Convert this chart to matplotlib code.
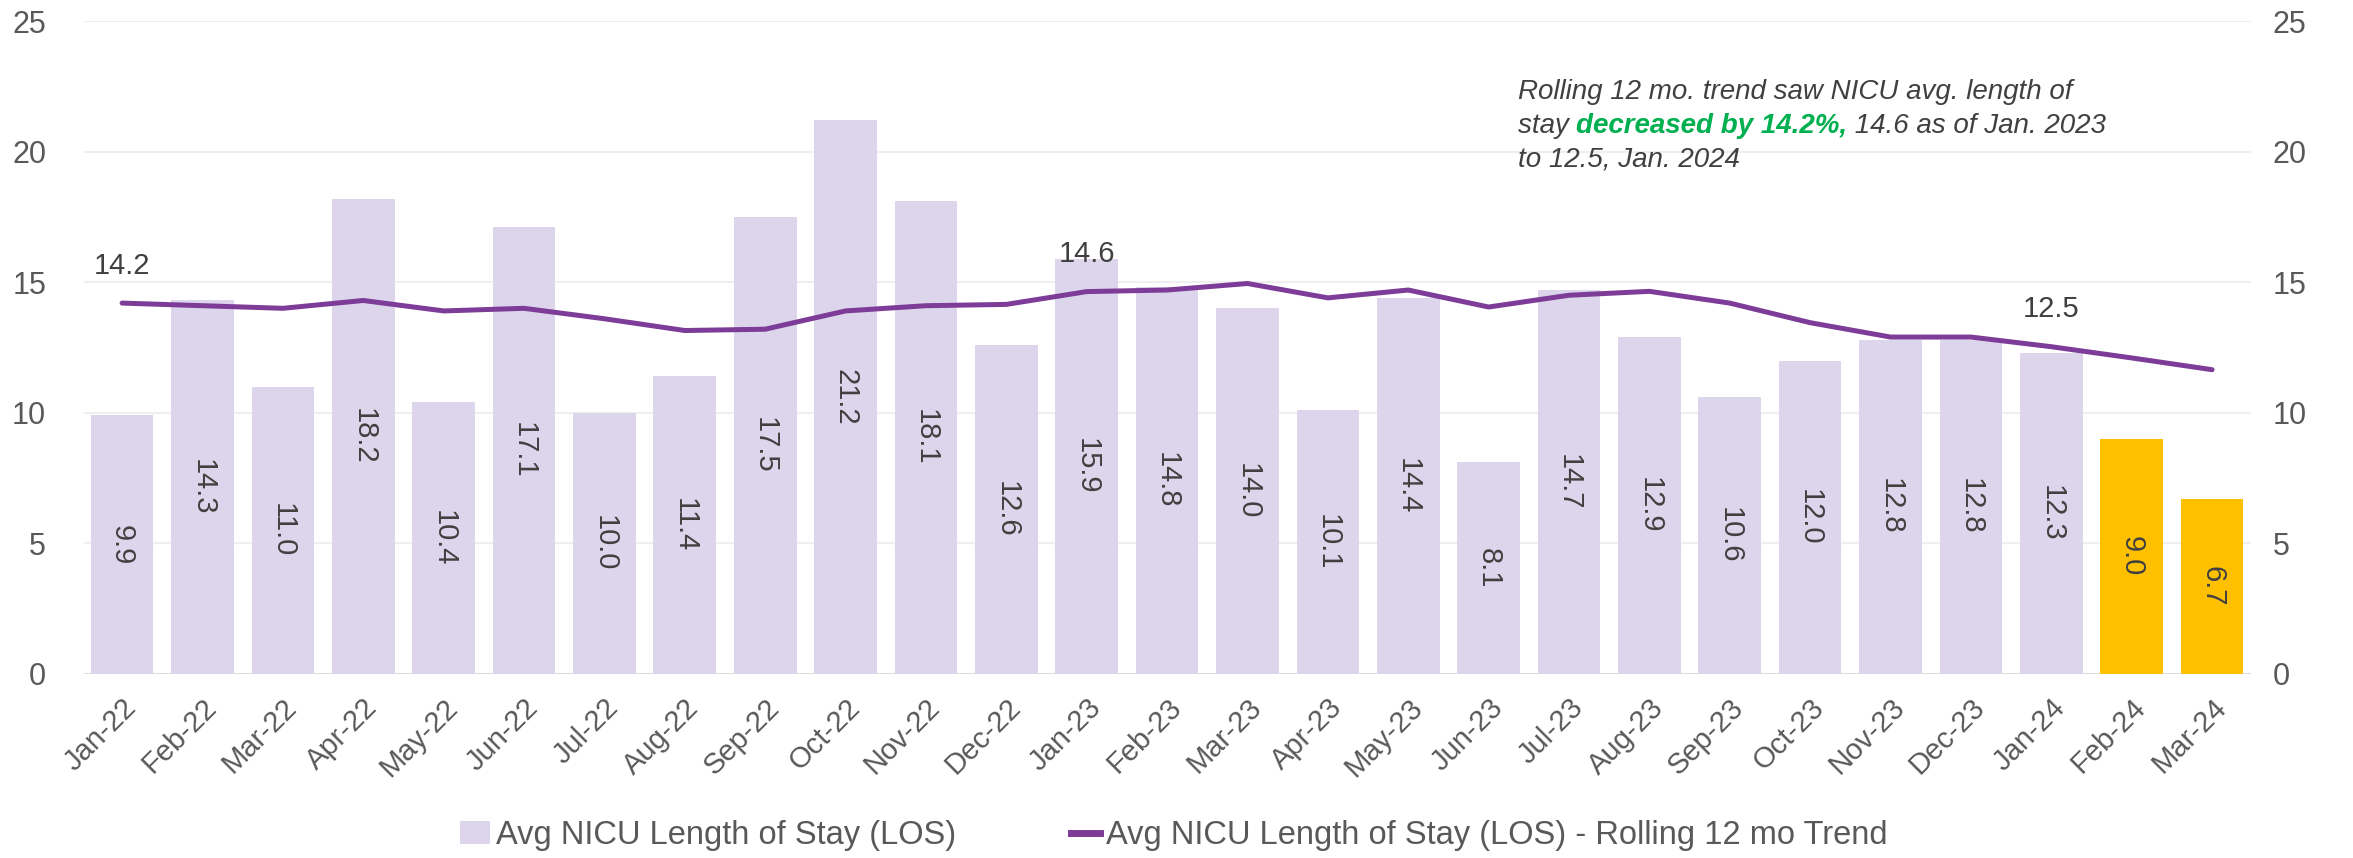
import numpy as np
import matplotlib.pyplot as plt
from matplotlib.lines import Line2D
from matplotlib.patches import Patch

# --- data ---
months = ["Jan-22", "Feb-22", "Mar-22", "Apr-22", "May-22", "Jun-22", "Jul-22",
          "Aug-22", "Sep-22", "Oct-22", "Nov-22", "Dec-22", "Jan-23", "Feb-23",
          "Mar-23", "Apr-23", "May-23", "Jun-23", "Jul-23", "Aug-23", "Sep-23",
          "Oct-23", "Nov-23", "Dec-23", "Jan-24", "Feb-24", "Mar-24"]
avg_los = [9.9, 14.3, 11.0, 18.2, 10.4, 17.1, 10.0, 11.4, 17.5, 21.2, 18.1, 12.6,
           15.9, 14.8, 14.0, 10.1, 14.4, 8.1, 14.7, 12.9, 10.6, 12.0, 12.8, 12.8,
           12.3, 9.0, 6.7]
rolling_12 = [14.2, 14.1, 14.0, 14.3, 13.9, 14.0, 13.6, 13.15, 13.2, 13.9, 14.1, 14.15,
              14.64, 14.7, 14.95, 14.4, 14.7, 14.05, 14.5, 14.65, 14.2, 13.45, 12.9,
              12.9, 12.53, 12.1, 11.65]
highlight_months = ["Feb-24", "Mar-24"]
trend_label_months = ["Jan-22", "Jan-23", "Jan-24"]

bar_label = "Avg NICU Length of Stay (LOS)"
line_label = "Avg NICU Length of Stay (LOS) - Rolling 12 mo Trend"

# --- colours ---
lavender = "#DCD5EB"
yellow = "#FFC000"
purple = "#7D3C98"
text_dark = "#404040"
tick_gray = "#595959"
green = "#00B050"

plt.rcParams["font.family"] = ["Liberation Sans", "DejaVu Sans"]

fig = plt.figure(figsize=(23.53, 8.58), dpi=100)
ax = fig.add_axes([0.0355, 0.2145, 0.921, 0.761])

x = np.arange(len(months))
bar_colors = [yellow if m in highlight_months else lavender for m in months]
ax.bar(x, avg_los, width=0.78, color=bar_colors, zorder=2)

# value labels, rotated, centred in each bar
for xi, v in zip(x, avg_los):
    ax.text(xi, v / 2, f"{v:.1f}", rotation=270, ha="center", va="center",
            fontsize=21, color=text_dark, zorder=4)

ax.plot(x, rolling_12, color=purple, lw=3.6, zorder=3, solid_capstyle="round")

for m in trend_label_months:
    i = months.index(m)
    ax.annotate(f"{rolling_12[i]:.1f}", (x[i], rolling_12[i]), xytext=(0, 27),
                textcoords="offset points", ha="center", va="center",
                fontsize=21, color=text_dark, zorder=5)

ax.set_xlim(-0.48, len(months) - 0.52)
ax.set_ylim(0, 25)
ax.set_yticks(range(0, 26, 5))
ax.set_xticks(x)
ax.set_xticklabels(months, rotation=45, ha="right", rotation_mode="anchor")
ax.tick_params(axis="y", length=0, labelsize=22, colors=tick_gray, pad=27)
ax.tick_params(axis="x", length=0, labelsize=21, colors=tick_gray, pad=14)
ax.yaxis.grid(True, color="#EFEFEF", lw=1.5)
ax.set_axisbelow(True)
ax.axhline(0, color="#D9D9D9", lw=2, zorder=1)
for s in ax.spines.values():
    s.set_visible(False)

ax2 = ax.twinx()
ax2.set_ylim(0, 25)
ax2.set_yticks(range(0, 26, 5))
ax2.tick_params(axis="y", length=0, labelsize=22, colors=tick_gray, pad=16)
for s in ax2.spines.values():
    s.set_visible(False)

# --- annotation, mixed styles ---
renderer = fig.canvas.get_renderer()
x0 = 0.645
ys = [1 - 99 / 858, 1 - 133 / 858, 1 - 166 / 858]
base = dict(fontsize=20, style="italic", color=text_dark, va="baseline")
fig.text(x0, ys[0], "Rolling 12 mo. trend saw NICU avg. length of", **base)
pieces = [("stay ", {}),
          ("decreased by 14.2%,", dict(color=green, weight="bold")),
          (" 14.6 as of Jan. 2023", {})]
cx = x0
for s, extra in pieces:
    kw = dict(base)
    kw.update(extra)
    t = fig.text(cx, ys[1], s, **kw)
    w = t.get_window_extent(renderer=renderer).width
    cx += w / fig.bbox.width
fig.text(x0, ys[2], "to 12.5, Jan. 2024", **base)

# --- legend ---
handles = [Patch(facecolor=lavender, edgecolor="none"),
           Line2D([0], [0], color=purple, lw=5)]
fig.legend(handles, [bar_label, line_label], loc="center",
           bbox_to_anchor=(0.499, 0.026), ncol=2, frameon=False, fontsize=23.5,
           handlelength=0.9, handletextpad=0.2, columnspacing=3.5,
           labelcolor=tick_gray)

fig.savefig("out.png", dpi=100)
